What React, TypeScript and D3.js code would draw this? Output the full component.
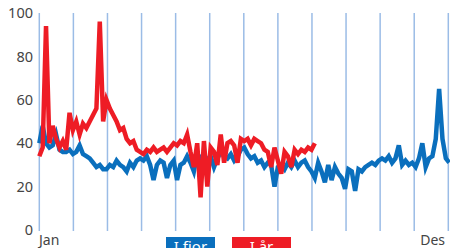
import React from "react";
import * as d3 from "d3";

const W = 450;
const H = 248;

const yTicks = [0, 20, 40, 60, 80, 100];
const monthLines = d3.range(13);
const xLabels = ["Jan", "Des"];
const legendLabels = ["I fior", "I år"];

// every 3rd day
const lastYear = [
  40, 48, 40, 38, 39, 44, 37, 36, 36, 37, 35, 36, 39, 35, 34, 33, 31, 29, 30, 28,
  28, 30, 29, 32, 30, 29, 27, 31, 29, 32, 33, 32, 34, 30, 23, 30, 32, 31, 24, 30,
  32, 23, 30, 31, 34, 31, 27, 35, 33, 35, 32, 34, 29, 33, 36, 34, 33, 35, 32, 34,
  37, 38, 35, 33, 34, 31, 32, 29, 31, 30, 20, 29, 30, 28, 31, 29, 32, 29, 31, 32,
  29, 27, 24, 31, 27, 22, 30, 23, 29, 26, 24, 19, 28, 27, 18, 28, 27, 29, 30, 31,
  30, 32, 33, 32, 34, 31, 33, 39, 30, 32, 30, 31, 29, 33, 40, 29, 33, 34, 42, 65,
  42, 33, 31,
];

const thisYear = [
  34, 38, 94, 40, 48, 42, 38, 41, 37, 54, 46, 50, 44, 49, 47, 50, 53, 56, 96, 50,
  60, 56, 53, 50, 46, 47, 42, 40, 41, 37, 36, 35, 37, 36, 38, 36, 37, 38, 36, 38,
  40, 39, 41, 40, 44, 36, 29, 40, 15, 41, 20, 38, 36, 30, 44, 31, 40, 41, 39, 31,
  42, 41, 42, 39, 42, 41, 40, 37, 36, 29, 38, 32, 26, 36, 34, 29, 37, 35, 37, 36,
  38, 37, 40,
];

export default function App() {
  const x = d3.scaleLinear().domain([0, lastYear.length - 1]).range([39.3, 449.2]);
  const xm = d3.scaleLinear().domain([0, 12]).range([39.3, 448.3]);
  const y = d3.scaleLinear().domain([0, 100]).range([230, 13]);
  const line = d3
    .line<number>()
    .x((_, i) => x(i))
    .y((d) => y(d));

  const font = "'Noto Sans', 'Open Sans', sans-serif";

  return (
    <svg
      width={W}
      height={H}
      style={{ position: "absolute", left: 0, top: 0, background: "#fff" }}
      fontFamily={font}
    >
      {monthLines.map((m) => (
        <line
          key={m}
          x1={xm(m)}
          x2={xm(m)}
          y1={13}
          y2={231}
          stroke="#9bbce6"
          strokeWidth={1.5}
        />
      ))}
      {yTicks.map((t) => (
        <text
          key={t}
          x={33}
          y={y(t)}
          dy="0.36em"
          textAnchor="end"
          fontSize={14.5}
          fill="#444"
        >
          {t}
        </text>
      ))}
      <path d={line(lastYear) || ""} fill="none" stroke="#0a6fbd" strokeWidth={4.5} />
      <path d={line(thisYear) || ""} fill="none" stroke="#ee1c25" strokeWidth={4.5} />
      <text x={39} y={245} fontSize={14} fill="#444">
        {xLabels[0]}
      </text>
      <text x={445} y={245} fontSize={14} fill="#444" textAnchor="end">
        {xLabels[1]}
      </text>
      <rect x={166} y={237} width={49} height={14} fill="#0a6fbd" />
      <rect x={232} y={237} width={59} height={14} fill="#ee1c25" />
      <text x={190.5} y={252} fontSize={15} fill="#fff" textAnchor="middle">
        {legendLabels[0]}
      </text>
      <text x={261.5} y={252} fontSize={15} fill="#fff" textAnchor="middle">
        {legendLabels[1]}
      </text>
    </svg>
  );
}
